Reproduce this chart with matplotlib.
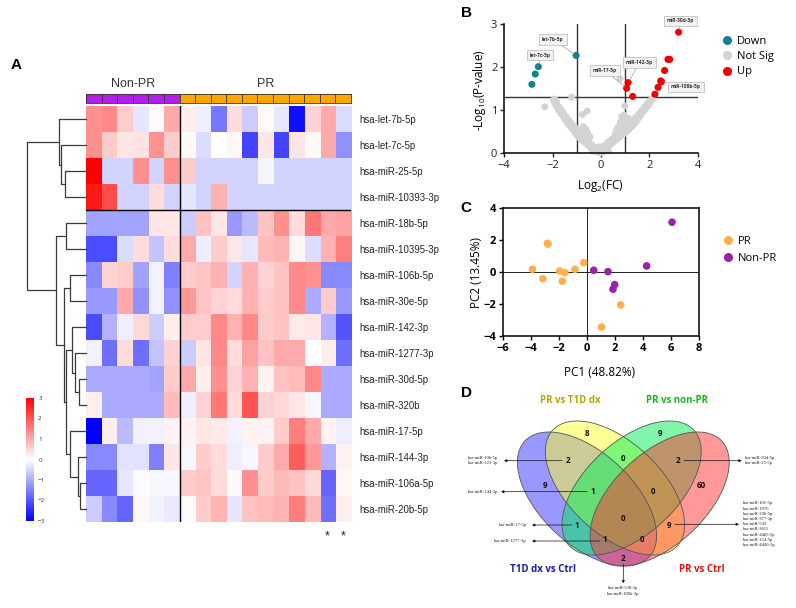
import numpy as np
import matplotlib
matplotlib.use('Agg')
import matplotlib.pyplot as plt
from matplotlib.colors import ListedColormap
from matplotlib.lines import Line2D
from matplotlib.patches import Ellipse

plt.rcParams['font.family'] = ['Open Sans', 'DejaVu Sans']
plt.rcParams['mathtext.default'] = 'regular'

# ---------------- data ----------------
# A: heatmap (z-scores), rows in dendrogram order
genes = ['hsa-let-7b-5p', 'hsa-let-7c-5p', 'hsa-miR-25-5p', 'hsa-miR-10393-3p',
         'hsa-miR-18b-5p', 'hsa-miR-10395-3p', 'hsa-miR-106b-5p', 'hsa-miR-30e-5p',
         'hsa-miR-142-3p', 'hsa-miR-1277-3p', 'hsa-miR-30d-5p', 'hsa-miR-320b',
         'hsa-miR-17-5p', 'hsa-miR-144-3p', 'hsa-miR-106a-5p', 'hsa-miR-20b-5p']
groups = ['Non-PR'] * 6 + ['PR'] * 11
starred = [15, 16]
expr = np.array([
    [1.3, 1.4, 0.6, -0.3, 0.05, 1.0, 0.2, -0.2, -1.6, 0.4, -0.6, 0.05, -0.3, -2.8, 0.5, 1.0, -0.4],
    [1.3, 0.6, 0.3, 0.35, 1.3, 0.6, 0.05, -0.4, 0.0, 0.1, -2.2, 0.3, -2.2, 0.3, 0.05, 1.0, -1.3],
    [3.0, -0.5, -0.5, 1.3, -0.5, 1.3, 0.6, -0.5, -0.5, -0.5, -0.5, -0.1, -0.5, -0.5, -0.5, -0.5, -0.5],
    [2.7, 2.1, -0.5, -0.5, 0.4, -0.5, -0.3, -0.5, 0.9, -0.5, -0.5, -0.5, -0.5, -0.5, -0.5, -0.5, -0.5],
    [-1.1, -1.1, -1.1, -1.1, 0.3, 0.3, -0.6, 0.7, 0.3, -1.2, -0.8, 0.7, 1.3, 0.4, 1.6, 1.0, 1.1],
    [-2.1, -2.1, -0.4, 0.4, -0.7, 0.4, 1.0, -0.2, 0.6, 0.3, -0.3, 0.8, 0.9, 0.1, -0.4, 0.9, 1.5],
    [-1.4, 0.5, 0.6, -1.1, -0.15, -1.5, 0.6, 0.7, 0.9, -0.5, 0.9, 0.5, 0.7, 1.4, 1.3, -1.4, -1.4],
    [-1.2, -1.2, 1.0, -1.3, -0.15, -1.3, 1.2, 0.7, 0.5, 0.4, 0.9, 0.6, 0.7, 1.4, -1.0, 0.6, -1.2],
    [-2.1, -0.9, -0.2, 0.45, -0.6, 0.2, 0.6, 0.6, 1.4, 0.9, 1.4, 0.6, 0.7, 0.25, 0.3, -0.9, -2.0],
    [-0.15, -1.7, 0.4, -1.7, -0.7, 0.5, -0.6, 0.3, 1.4, 0.4, 1.1, 0.7, 1.0, 1.0, 0.0, 0.2, -1.7],
    [-1.0, -1.0, -1.0, -1.0, -1.1, 0.6, 1.0, 0.2, 1.3, 0.5, 0.9, 0.15, 0.7, 0.8, 1.4, -1.0, -1.0],
    [0.2, -1.0, -1.0, -1.0, -1.0, 0.8, -0.2, 0.5, 1.6, 0.4, 2.0, 0.5, 0.45, 0.3, -0.1, -1.0, -1.0],
    [-3.0, 0.2, -0.8, -0.15, -0.15, 0.15, 0.15, 0.3, 0.25, -0.15, 0.15, 0.15, 0.6, 1.5, 1.0, 0.15, -0.2],
    [-1.4, -1.4, -0.35, -0.35, -1.5, 0.3, -0.1, 0.6, 0.4, -0.2, -0.1, 0.6, 1.0, 1.9, 1.2, -0.9, 0.15],
    [-1.8, -1.8, -0.3, -0.05, -0.1, -0.1, 0.6, 0.7, 0.4, 0.05, 1.3, 0.6, 0.8, 0.7, 0.45, -1.8, 0.1],
    [-0.6, -1.4, -1.8, 0.1, -0.15, -0.25, 0.05, 0.6, 0.9, -0.3, 0.7, 0.8, 0.9, 1.5, 0.8, -1.7, 0.2],
])
# row dendrogram merges: (child a, child b, height); ids >= 16 are earlier merges
row_merges = [(2, 3, 21.0), (1, 16, 24.3), (0, 17, 26.7), (4, 5, 20.0), (6, 7, 16.0),
              (10, 11, 6.7), (9, 21, 11.0), (8, 22, 13.3), (14, 15, 6.0), (13, 24, 8.3),
              (12, 25, 16.0), (23, 26, 20.0), (20, 27, 21.7), (19, 28, 29.3), (18, 29, 57.7)]

# B: volcano
down_x = [-2.86, -2.72, -2.59, -1.03]
down_y = [1.60, 1.84, 2.01, 2.27]
up_x = [1.06, 1.12, 1.31, 2.23, 2.36, 2.47, 2.50, 2.63, 2.77, 2.84, 3.21]
up_y = [1.51, 1.64, 1.32, 1.37, 1.53, 1.68, 1.66, 1.92, 2.18, 2.18, 2.81]
ns_x = [-1.97, -1.94, -1.90, -1.86, -1.81, -1.76, -1.70, -1.63, -1.56, -1.49, -1.42, -1.35,
        -1.28, -1.21, -1.14, -1.07, -1.01, -0.94, -0.87, -0.80, -0.73, -0.66, -0.59, -0.52,
        -0.45, -0.39, -0.32, -0.25, -0.18, -0.10, -0.03,
        -1.92, -1.84, -1.74, -1.64, -1.54, -1.44, -1.33, -1.22, -1.10, -0.98, -0.86, -0.74,
        -0.62, -0.50, -0.38, -0.26, -0.14,
        -2.33, -1.21, -0.77, -0.57, -0.73, -0.62, -0.55, -0.68, -0.45,
        -0.35, -0.20, -0.10, 0.00, 0.05, 0.12, 0.20, 0.30, -0.05, 0.10,
        0.05, 0.12, 0.23, 0.30, 0.37, 0.44, 0.51, 0.58, 0.65, 0.72, 0.79, 0.86, 0.93, 1.00,
        1.06, 1.13, 1.20, 1.27, 1.34, 1.41, 1.48, 1.54, 1.61, 1.68, 1.75, 1.82, 1.89, 1.96,
        2.03, 2.10, 2.14,
        0.18, 0.32, 0.45, 0.58, 0.70, 0.82, 0.94, 1.06, 1.18, 1.30, 1.42, 1.54, 1.66, 1.78,
        1.90, 2.02,
        0.72, 0.80, 0.86, 0.92, 0.95, 1.00, 1.08, 1.13, 1.20, 1.27, 0.65, 0.88, 0.60, 0.79, 0.99]
ns_y = [1.24, 1.20, 1.16, 1.11, 1.07, 1.02, 0.97, 0.91, 0.85, 0.79, 0.73, 0.68,
        0.63, 0.58, 0.53, 0.48, 0.43, 0.39, 0.35, 0.31, 0.28, 0.25, 0.22, 0.18,
        0.15, 0.12, 0.09, 0.06, 0.04, 0.02, 0.01,
        1.26, 1.17, 1.08, 1.00, 0.93, 0.84, 0.76, 0.69, 0.62, 0.55, 0.47, 0.40,
        0.33, 0.27, 0.20, 0.14, 0.08,
        1.08, 1.30, 0.90, 0.98, 0.62, 0.55, 0.48, 0.50, 0.38,
        0.05, 0.12, 0.06, 0.03, 0.08, 0.04, 0.10, 0.06, 0.15, 0.16,
        0.02, 0.06, 0.12, 0.16, 0.20, 0.23, 0.27, 0.30, 0.33, 0.36, 0.39, 0.42, 0.45, 0.48,
        0.50, 0.54, 0.58, 0.62, 0.66, 0.71, 0.76, 0.81, 0.86, 0.92, 0.97, 1.02, 1.07, 1.12,
        1.18, 1.24, 1.28,
        0.20, 0.27, 0.33, 0.40, 0.47, 0.55, 0.60, 0.62, 0.68, 0.76, 0.83, 0.90, 0.98, 1.06,
        1.14, 1.22,
        0.62, 0.72, 0.85, 0.66, 0.89, 0.78, 0.72, 0.81, 0.76, 0.70, 0.55, 0.50, 0.46, 1.73, 1.10]
volcano_labels = ['let-7b-5p', 'let-7c-5p', 'miR-17-5p', 'miR-142-3p', 'miR-30d-5p', 'miR-106b-5p']
volcano_targets = [('down', 3), ('down', 2), ('up', 0), ('up', 1), ('up', 10), ('up', 5)]

# C: PCA
pr_pc1 = [-2.84, -2.80, -3.91, -3.17, -1.96, -1.60, -1.77, -0.86, -0.24, 2.41, 1.03]
pr_pc2 = [1.81, 1.76, 0.19, -0.40, 0.08, -0.02, -0.56, 0.19, 0.60, -2.04, -3.42]
npr_pc1 = [0.48, 1.50, 1.98, 1.86, 4.27, 6.09]
npr_pc2 = [0.13, 0.04, -0.77, -1.06, 0.40, 3.13]

# D: Venn
venn_sets = ['T1D dx vs Ctrl', 'PR vs T1D dx', 'PR vs non-PR', 'PR vs Ctrl']
venn_counts = [8, 9, 9, 60, 2, 0, 2, 1, 0, 1, 0, 9, 1, 0, 2]
callout_names = [['hsa-miR-10b-5p', 'hsa-miR-223-3p'],
                 ['hsa-miR-144-3p'],
                 ['hsa-miR-17-5p'],
                 ['hsa-miR-1277-3p'],
                 ['hsa-miR-30d-5p', 'hsa-miR-25-5p'],
                 ['hsa-miR-101-5p', 'hsa-miR-1976', 'hsa-miR-296-5p', 'hsa-miR-377-3p',
                  'hsa-miR-543', 'hsa-miR-3611', 'hsa-miR-4485-5p', 'hsa-miR-154-5p',
                  'hsa-miR-4446-3p'],
                 ['hsa-miR-338-3p', 'hsa-miR-106b-3p']]

# ---------------- figure ----------------
W, H = 796, 608
fig = plt.figure(figsize=(W / 100, H / 100), dpi=100)


def px_axes(x0, y0, x1, y1):
    return fig.add_axes([x0 / W, 1 - y1 / H, (x1 - x0) / W, (y1 - y0) / H])


PURPLE = '#b41ee6'
ORANGE = '#ffa500'
HFONT = ['Liberation Sans', 'DejaVu Sans']

# ---- A: heatmap ----
hax = px_axes(86, 106, 351, 522)
im = hax.imshow(expr, cmap='bwr', vmin=-3, vmax=3, aspect='auto', interpolation='nearest')
n_npr = groups.count('Non-PR')
hax.axvline(n_npr - 0.5, color='k', lw=1)
hax.axhline(3.5, color='k', lw=1)
hax.set_xticks([])
hax.set_yticks(range(len(genes)))
hax.set_yticklabels(genes, fontsize=6.9, family=HFONT, color='#222')
hax.yaxis.tick_right()
hax.tick_params(axis='y', length=0, pad=6)
for s in hax.spines.values():
    s.set_visible(False)
for c in starred:
    hax.annotate('*', xy=(c, len(genes) - 0.5), xytext=(0, -6), textcoords='offset points',
                 ha='center', va='top', fontsize=9, family=HFONT, color='#222')

# group bar
tax = px_axes(86, 94, 351, 103)
codes = [[0 if g == 'Non-PR' else 1 for g in groups]]
tax.imshow(codes, cmap=ListedColormap([PURPLE, ORANGE]), aspect='auto', vmin=0, vmax=1)
tax.vlines(np.arange(0.5, len(groups) - 1), -0.5, 0.5, color='#333', lw=0.6)
tax.set_xticks([])
tax.set_yticks([])
for s in tax.spines.values():
    s.set_color('#333')
    s.set_linewidth(0.6)
for g, cx in [('Non-PR', (n_npr - 1) / 2), ('PR', (n_npr + len(groups) - 1) / 2)]:
    tax.annotate(g, xy=(cx, -0.5), xytext=(0, 3), textcoords='offset points',
                 ha='center', va='bottom', fontsize=9, family=HFONT, color='#333')

# dendrogram
dax = px_axes(27.3, 106, 86, 522)
pos = {i: float(i) for i in range(len(genes))}
hgt = {i: 0.0 for i in range(len(genes))}
for k, (a, b, h) in enumerate(row_merges):
    dax.plot([hgt[a], h, h, hgt[b]], [pos[a], pos[a], pos[b], pos[b]],
             color='#3a3a3a', lw=0.9, clip_on=False)
    pos[len(genes) + k] = (pos[a] + pos[b]) / 2
    hgt[len(genes) + k] = h
dax.set_xlim(max(m[2] for m in row_merges), 0)
dax.set_ylim(len(genes) - 0.5, -0.5)
dax.axis('off')

# colorbar
cax = px_axes(26, 398, 34, 521)
cb = fig.colorbar(im, cax=cax, ticks=range(-3, 4))
cb.outline.set_visible(False)
cax.tick_params(length=0, labelsize=4.5, pad=3, colors='#333')

# ---- B: volcano ----
vax = px_axes(504.3, 24, 697.7, 153.3)
vax.scatter(ns_x, ns_y, s=25, c='#d3d3d3', edgecolors='none', zorder=2, clip_on=False)
vax.scatter(down_x, down_y, s=26, c='#17808f', edgecolors='none', zorder=3, clip_on=False)
vax.scatter(up_x, up_y, s=26, c='#f00000', edgecolors='none', zorder=3, clip_on=False)
vax.axvline(-1, color='#333', lw=1, zorder=1)
vax.axvline(1, color='#333', lw=1, zorder=1)
vax.axhline(1.3, color='#333', lw=1, zorder=1)
vax.set_xlim(-4, 4)
vax.set_ylim(0, 3)
vax.set_xticks([-4, -2, 0, 2, 4])
vax.set_yticks([0, 1, 2, 3])
vax.spines[['top', 'right']].set_visible(False)
for s in ['left', 'bottom']:
    vax.spines[s].set_linewidth(1.1)
vax.tick_params(length=3, width=1, labelsize=8, colors='#222', pad=2)
box_pos = [(-1.99, 2.65), (-2.52, 2.28), (0.15, 1.93), (1.6, 2.1), (3.3, 3.07), (3.5, 1.54)]
for lab, (grp, idx), bp in zip(volcano_labels, volcano_targets, box_pos):
    pt = (down_x[idx], down_y[idx]) if grp == 'down' else (up_x[idx], up_y[idx])
    vax.annotate(lab, xy=pt, xytext=bp, fontsize=3.5, fontweight='bold', color='#333',
                 ha='center', va='center', annotation_clip=False, zorder=5,
                 bbox=dict(boxstyle='square,pad=0.6', fc='#f2f2f2', ec='#b5b5b5', lw=0.5),
                 arrowprops=dict(arrowstyle='-', color='#9a9a9a', lw=0.5, shrinkA=0, shrinkB=2))
vh = [Line2D([], [], ls='', marker='o', ms=6.5, mec='none', mfc=c)
      for c in ['#17808f', '#d3d3d3', '#f00000']]
vax.legend(vh, ['Down', 'Not Sig', 'Up'], loc='upper left', bbox_to_anchor=(721 / W, 1 - 36 / H),
           bbox_transform=fig.transFigure, frameon=False, fontsize=8, handlelength=1,
           handletextpad=0.4, labelspacing=0.38, borderpad=0, borderaxespad=0)
fig.text(600 / W, 1 - 186 / H, 'Log$_2$(FC)', ha='center', va='center', fontsize=8.5)
fig.text(480 / W, 1 - 90 / H, '-Log$_{10}$(P-value)', ha='center', va='center', rotation=90,
         fontsize=8.5)

# ---- C: PCA ----
pax = px_axes(503.3, 208.3, 698.7, 336.3)
pax.scatter(pr_pc1, pr_pc2, s=30, c='#ffb04c', edgecolors='none', zorder=3, clip_on=False)
pax.scatter(npr_pc1, npr_pc2, s=30, c='#9a22a8', edgecolors='none', zorder=3, clip_on=False)
pax.axhline(0, color='#222', lw=0.7, zorder=1)
pax.axvline(0, color='#222', lw=0.7, zorder=1)
pax.set_xlim(-6, 8)
pax.set_ylim(-4, 4)
pax.set_xticks(range(-6, 9, 2))
pax.set_yticks(range(-4, 5, 2))
for s in pax.spines.values():
    s.set_linewidth(1.1)
pax.tick_params(length=3, width=1, labelsize=8, pad=2)
for t in pax.get_xticklabels() + pax.get_yticklabels():
    t.set_fontweight('bold')
ph = [Line2D([], [], ls='', marker='o', ms=6.5, mec='none', mfc=c) for c in ['#ffb04c', '#9a22a8']]
pax.legend(ph, ['PR', 'Non-PR'], loc='upper left', bbox_to_anchor=(722 / W, 1 - 236 / H),
           bbox_transform=fig.transFigure, frameon=False, fontsize=8, handlelength=1,
           handletextpad=0.4, labelspacing=0.55, borderpad=0, borderaxespad=0)
fig.text(600 / W, 1 - 372 / H, 'PC1 (48.82%)', ha='center', va='center', fontsize=8.5)
fig.text(476 / W, 1 - 272 / H, 'PC2 (13.45%)', ha='center', va='center', rotation=90,
         fontsize=8.5)

# ---- overlay: panel letters + Venn ----
ov = fig.add_axes([0, 0, 1, 1])
ov.set_xlim(0, W)
ov.set_ylim(H, 0)
ov.axis('off')
for letter, (x, y) in zip('ABCD', [(16, 65), (467, 13), (466, 208), (466, 393)]):
    ov.text(x, y, letter, ha='center', va='center', fontsize=11, fontweight='bold', family=HFONT)

ell_geom = [((587, 499), 43), ((615, 488), 43), ((631.6, 488), -43), ((659.6, 499), -43)]
ell_fill = ['#3333ff', '#ffff33', '#00ee55', '#ff3333']
for (c, ang), fc in zip(ell_geom, ell_fill):
    ov.add_patch(Ellipse(c, 170, 92, angle=ang, fc=fc, ec='none', alpha=0.5))
for (c, ang) in ell_geom:
    ov.add_patch(Ellipse(c, 170, 92, angle=ang, fc='none', ec='#555', lw=0.6))

set_lab_pos = [(542.7, 570), (570, 400.7), (676.7, 400.7), (701.7, 570)]
set_lab_col = ['#1c1ca8', '#b5a800', '#1eb41e', '#e01414']
for name, (x, y), col in zip(venn_sets, set_lab_pos, set_lab_col):
    ov.text(x, y, name, ha='center', va='center', fontsize=7, fontweight='bold', color=col)

count_pos = [(586.7, 433.3), (660, 433.3), (545, 485), (701.7, 485), (568.3, 460.7),
             (623.3, 458.3), (678.3, 460.7), (593.3, 491.7), (652.7, 491.7), (577.3, 525),
             (623.3, 518.3), (669, 525), (605, 540), (641.7, 540), (623.3, 558.3)]
for n, (x, y) in zip(venn_counts, count_pos):
    ov.text(x, y, str(n), ha='center', va='center', fontsize=5.8, fontweight='bold', color='#111')

callout_lines = [((562, 460.7), (504, 460.7)), ((587, 491.7), (501, 491.7)),
                 ((572, 525), (532, 525)), ((600, 541), (532, 541)),
                 ((684, 460.7), (741.7, 460.7)), ((675, 524.3), (739, 524.3)),
                 ((623.3, 564), (623.3, 583.3))]
callout_text = [((498, 460.7), 'right', 'center'), ((498, 491.7), 'right', 'center'),
                ((527, 525), 'right', 'center'), ((527, 541), 'right', 'center'),
                ((745, 460.7), 'left', 'center'), ((743, 524.3), 'left', 'center'),
                ((623.3, 586.5), 'center', 'top')]
SERIF = ['Liberation Serif', 'DejaVu Serif']
for (p0, p1), names, ((tx, ty), ha, va) in zip(callout_lines, callout_names, callout_text):
    ov.annotate('', xy=p1, xytext=p0,
                arrowprops=dict(arrowstyle='-|>', color='#111', lw=0.5, mutation_scale=4,
                                shrinkA=0, shrinkB=0))
    ov.text(tx, ty, '\n'.join(names), ha=ha, va=va, fontsize=3.3, family=SERIF,
            linespacing=1.4, multialignment='left' if ha != 'center' else 'center', color='#222')

fig.savefig('out.png', dpi=100)
